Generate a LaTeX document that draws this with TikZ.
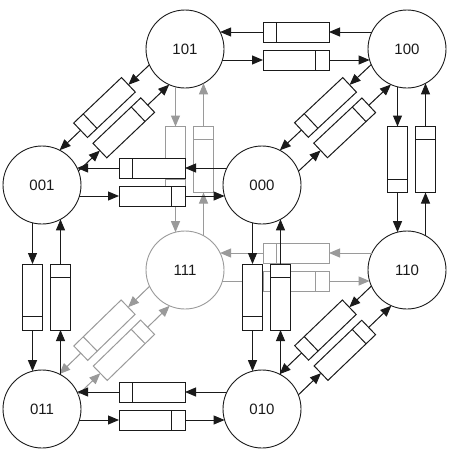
\documentclass[tikz,border=0pt]{standalone}
\usepackage{fontspec}
\setmainfont{Liberation Sans}
\usetikzlibrary{arrows.meta,calc}
\definecolor{ink}{HTML}{1A1A1A}
\definecolor{faded}{HTML}{9A9A9A}

% One directed channel: arrow from the source state into a queue box,
% then from the box into the target state. Each channel runs on the
% right-hand side of its direction, so the two channels of an edge pair up.
% Optional argument: the colour of the channel.
\newcommand\qlink[3][ink]{%
  \path let \p1=($(#3)-(#2)$) in \pgfextra{%
    \pgfmathsetmacro\qa{atan2(\y1,\x1)}\xdef\qa{\qa}%
    \pgfmathsetmacro\ql{veclen(\x1,\y1)}\xdef\ql{\ql}};%
  \pgfmathsetmacro\qy{-14+(-4.5*sin(\qa)+3*cos(\qa))}%
  \pgfmathsetmacro\qh{sqrt(39*39-\qy*\qy)}%
  \begin{scope}[shift={(#2)}, rotate=\qa]
    \coordinate (#2#3a) at (\qh,\qy);
    \coordinate (#2#3b) at (\ql-\qh,\qy);
    \node[qbox, draw=#1, rotate=\qa] (#2#3q) at (\ql/2,\qy) {};
  \end{scope}
  \draw[qarr, draw=#1, fill=#1] (#2#3a) -- (#2#3q.west);
  \draw[qline, draw=#1] ($(#2#3q.north east)!0.2!(#2#3q.north west)$) --
                        ($(#2#3q.south east)!0.2!(#2#3q.south west)$);
  \draw[qarr, draw=#1, fill=#1] (#2#3q.east) -- (#2#3b);
}

\begin{document}
\begin{tikzpicture}[x=1pt, y=1pt,
  state/.style={circle, draw=ink, line width=0.9pt, minimum size=78pt,
    inner sep=0pt, font=\fontsize{15}{17}\selectfont, text=ink},
  qbox/.style={rectangle, fill=white, line width=1pt,
    minimum width=66pt, minimum height=20pt, inner sep=0pt, outer sep=0pt},
  qline/.style={line width=1pt},
  qarr/.style={line width=1pt, -{Triangle[length=11pt,width=9pt]}}]

\useasboundingbox (0,0) rectangle (453,-458);
\fill[white] (0,0) rectangle (453,-458);

% states: front face and back face of the cube
\node[state] (s101) at (185,-49)  {101};
\node[state] (s100) at (407,-49)  {100};
\node[state] (s001) at (42,-185)  {001};
\node[state] (s000) at (262,-185) {000};
\node[state, draw=faded] (s111) at (185,-270) {111};
\node[state] (s110) at (407,-270) {110};
\node[state] (s011) at (42,-409)  {011};
\node[state] (s010) at (262,-409) {010};

% hidden edges (behind the front face)
\qlink[faded]{s101}{s111}
\qlink[faded]{s111}{s101}
\qlink[faded]{s111}{s110}
\qlink[faded]{s110}{s111}
\qlink[faded]{s111}{s011}
\qlink[faded]{s011}{s111}

% visible edges
\qlink{s101}{s100}
\qlink{s100}{s101}
\qlink{s101}{s001}
\qlink{s001}{s101}
\qlink{s100}{s000}
\qlink{s000}{s100}
\qlink{s100}{s110}
\qlink{s110}{s100}
\qlink{s001}{s000}
\qlink{s000}{s001}
\qlink{s001}{s011}
\qlink{s011}{s001}
\qlink{s000}{s010}
\qlink{s010}{s000}
\qlink{s110}{s010}
\qlink{s010}{s110}
\qlink{s011}{s010}
\qlink{s010}{s011}
\end{tikzpicture}
\end{document}
